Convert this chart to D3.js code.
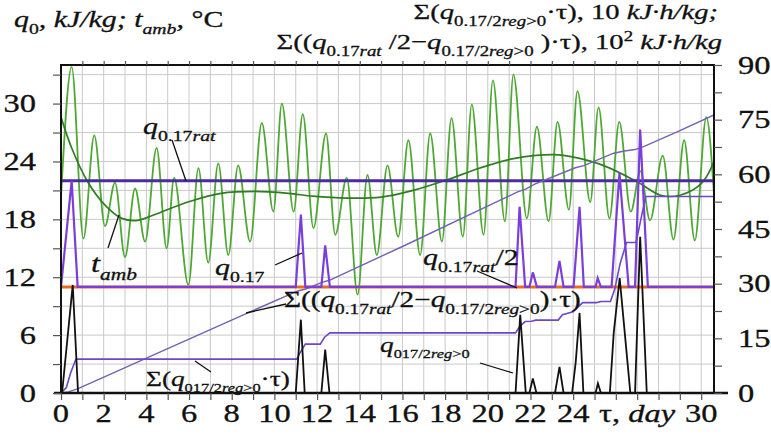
<!DOCTYPE html>
<html><head><meta charset="utf-8">
<script src="https://cdn.jsdelivr.net/npm/d3@7"></script>
<style>body{margin:0;background:#fff} svg{display:block}</style>
</head><body><svg id="c" width="771" height="445"></svg>
<script>
// ---------- data ----------
const xLabelDays = [0,2,4,6,8,10,12,14,16,18,20,22,24,30];
const leftLabels = [0,6,12,18,24,30];
const rightLabels = [0,15,30,45,60,75,90];

// q0.17rat and q0.17rat/2 levels (kJ/kg)
const qRat = [[0,22],[30.6,22]];
const qRatHalf = [[0,11],[30.6,11]];

// t_amb, daily oscillation (day, °C)
const tAmb = [[0,20.3],[0.5,33.8],[1.05,16.0],[1.56,26.7],[2.06,17.3],[2.53,21.8],[3.0,14.1],[3.47,21.2],[3.94,15.7],
 [4.48,25.4],[4.95,15.0],[5.3,22.3],[5.97,11.2],[6.44,23.3],[6.9,13.5],[7.37,23.8],[7.84,14.3],[8.3,23.6],[8.86,15.7],
 [9.41,28.0],[9.95,18.8],[10.35,30.0],[10.9,18.8],[11.33,28.9],[11.83,17.1],[12.42,26.9],[12.85,16.4],[13.39,22.3],
 [13.9,10.2],[14.36,22.6],[14.8,14.3],[15.3,23.6],[15.8,16.2],[16.28,26.2],[16.83,14.3],[17.3,26.9],[17.85,15.7],
 [18.3,28.5],[18.83,16.2],[19.25,29.9],[19.8,16.4],[20.24,32.4],[20.8,17.8],[21.2,33.0],[21.83,18.1],[22.3,27.6],
 [22.85,17.8],[23.27,28.1],[23.8,19.0],[24.2,31.3],[24.8,19.8],[25.19,29.6],[25.7,18.1],[26.16,28.1],[26.7,18.8],
 [27.15,23.0],[27.6,17.9],[28.2,24.6],[28.7,15.9],[29.2,26.2],[29.7,15.8],[30.24,28.6],[30.6,20.6]];

// t_amb smoothed trend (day, °C)
const tAmbTrend = [[0,28.6],[0.5,25.4],[1.25,21.9],[2.05,19.5],[2.85,18.1],[3.6,17.9],[4.4,18.5],[5.95,19.8],[7.5,20.7],
 [9.1,20.9],[10.65,20.7],[11.8,20.4],[13.4,20.2],[15.0,20.3],[16.5,21.0],[18.1,22.1],[19.6,23.3],[21.2,24.3],
 [23.1,24.7],[23.9,24.5],[25.4,23.6],[27.0,21.9],[28.1,20.5],[29.0,20.5],[30.0,21.7],[30.6,24.0]];

// q0.17 (kJ/kg)
const q017 = [[0,11],[0.5,22],[0.78,11],[11.0,11],[11.24,18.5],[11.45,11],[12.2,11],[12.38,15.3],[12.6,11],
 [21.3,11],[21.49,19.3],[21.75,11],[21.95,11],[22.11,12.5],[22.3,11],[23.15,11],[23.36,13.7],[23.55,11],
 [24.02,11],[24.3,19.3],[24.5,11],[25.05,11],[25.15,11.9],[25.3,11],[25.8,11],[26.17,22.8],[26.6,11],
 [26.9,11],[27.14,27.3],[27.5,11],[30.6,11]];

// q017/2reg>0 (kJ/kg)
const q017reg = [[0,0],[0.05,0],[0.55,11.2],[0.8,0],[11.0,0],[11.24,7.6],[11.42,0],[12.2,0],[12.38,4.5],[12.58,0],
 [21.3,0],[21.52,8.1],[21.78,0],[21.95,0],[22.11,1.5],[22.28,0],[23.15,0],[23.36,2.7],[23.55,0],
 [23.95,0],[24.12,3.2],[24.3,8.3],[24.48,0],[25.05,0],[25.16,1.0],[25.3,0],
 [25.72,0],[25.9,6.2],[26.18,11.9],[26.68,0],[26.9,0],[27.14,16.2],[27.45,0],[30.6,0]];

// Σ(q017/2reg>0·τ), 10 kJ·h/kg (right axis)
const sumReg = [[0,0],[0.25,1.5],[0.45,5.5],[0.7,9.3],[11.05,9.3],[11.2,11],[11.45,13.4],[12.15,13.4],[12.35,15.3],
 [12.6,16.5],[21.3,16.5],[21.5,18.3],[21.75,19.6],[22.05,19.7],[22.25,20.0],[23.3,20.0],[23.5,21.5],[24.0,22.3],
 [24.2,23.5],[24.45,24.8],[25.1,24.8],[25.3,25.1],[25.75,25.1],[25.95,28.5],[26.2,35.5],[26.5,41.3],[26.95,41.3],
 [27.15,47],[27.4,53.9],[30.6,53.9]];

// Σ((q0.17rat/2 − q0.17/2reg>0)·τ), 10² kJ·h/kg (right axis)
const sumDiff = [[0,0],[0.35,0.3],[0.8,1.2],[5,12.2],[8.6,21.6],[11.1,28.0],[11.5,28.6],[12.2,30.3],[12.6,31.0],
 [16,40.2],[21.4,55.2],[21.8,56.0],[22.2,57.3],[24.1,61.8],[24.5,62.4],[25.9,65.8],[26.4,66.4],[26.9,66.8],
 [27.3,67.6],[28.9,71.7],[30.6,76.3]];

// ---------- drawing ----------
const svg = d3.select('#c');
const L = 61, R = 714, T = 65, B = 393;
const x = d3.scaleLinear().domain([0,30.6]).range([L,R]);
const yL = d3.scaleLinear().domain([0,34]).range([B,T]);
const yR = d3.scaleLinear().domain([0,90]).range([B,T]);
const FONT = '"Liberation Serif","Times New Roman",serif';
const SX = 1.3;

function rich(parent, px, py, parts, o={}) {
  const size = o.size || 22, sx = o.sx || SX, sub = o.sub || 0.66;
  const t = parent.append('text').attr('transform',`translate(${px},${py}) scale(${sx},1)`)
    .attr('font-family',FONT).attr('font-size',size).attr('text-anchor',o.anchor||'start')
    .attr('fill','#111').attr('stroke','#111').attr('stroke-width',0.3);
  let cur = 0;
  parts.forEach(p => {
    const off = p.sub ? size*0.3 : p.sup ? -size*0.38 : 0;
    const ts = t.append('tspan').text(p.t).attr('dy', off - cur);
    cur = off;
    if (p.sub || p.sup) ts.attr('font-size', size*sub);
    if (p.i) ts.attr('font-style','italic');
  });
  return t;
}

// grid
const grid = svg.append('g').attr('stroke','#c9c9c9').attr('stroke-width',1);
grid.selectAll('.gv').data(d3.range(1,31)).join('line')
  .attr('x1',d=>x(d)).attr('x2',d=>x(d)).attr('y1',T).attr('y2',B);
grid.selectAll('.gh').data(d3.range(3,34,3)).join('line')
  .attr('x1',L).attr('x2',R).attr('y1',d=>yL(d)).attr('y2',d=>yL(d));

const lineL = d3.line().x(d=>x(d[0])).y(d=>yL(d[1]));
const lineR = d3.line().x(d=>x(d[0])).y(d=>yR(d[1]));

// clip
svg.append('clipPath').attr('id','pc').append('rect').attr('x',L).attr('y',T).attr('width',R-L).attr('height',B-T);
const plot = svg.append('g').attr('clip-path','url(#pc)');

plot.append('path').attr('d', d3.line().x(d=>x(d[0])).y(d=>yL(d[1])).curve(d3.curveMonotoneX)(tAmb))
  .attr('fill','none').attr('stroke','#4fa834').attr('stroke-width',1.8);
plot.append('path').attr('d', d3.line().x(d=>x(d[0])).y(d=>yL(d[1])).curve(d3.curveCatmullRom)(tAmbTrend))
  .attr('fill','none').attr('stroke','#2f7d22').attr('stroke-width',1.7);

plot.append('path').attr('d', lineL(qRat))
  .attr('fill','none').attr('stroke','#4a2c9c').attr('stroke-width',3);
plot.append('path').attr('d', lineL(qRatHalf))
  .attr('fill','none').attr('stroke','#f06a1e').attr('stroke-width',3);

plot.append('path').attr('d', lineR(sumDiff))
  .attr('fill','none').attr('stroke','#7262b4').attr('stroke-width',1.4);
plot.append('path').attr('d', lineR(sumReg))
  .attr('fill','none').attr('stroke','#6a48c8').attr('stroke-width',1.6);
plot.append('path').attr('d', lineL(q017))
  .attr('fill','none').attr('stroke','#7a3fd8').attr('stroke-width',2.2);
plot.append('path').attr('d', lineL(q017reg))
  .attr('fill','none').attr('stroke','#111').attr('stroke-width',1.8);

// frame
svg.append('rect').attr('x',L).attr('y',T).attr('width',R-L).attr('height',B-T)
  .attr('fill','none').attr('stroke','#111').attr('stroke-width',2);
svg.append('line').attr('x1',54).attr('x2',728).attr('y1',B).attr('y2',B).attr('stroke','#111').attr('stroke-width',2.6);

// axes ticks
const axL = svg.append('g').attr('transform',`translate(${L},0)`)
  .call(d3.axisLeft(yL).tickValues(d3.range(0,34,3)).tickSize(8).tickFormat(''));
const axR = svg.append('g').attr('transform',`translate(${R},0)`)
  .call(d3.axisRight(yR).tickValues(d3.range(0,91,7.5)).tickSize(8).tickFormat(''));
const axB = svg.append('g').attr('transform',`translate(0,${B})`)
  .call(d3.axisBottom(x).tickValues(d3.range(0,31,1)).tickSize(7).tickFormat(''));
const axT = svg.append('g').attr('transform',`translate(0,${T})`)
  .call(d3.axisTop(x).tickValues(d3.range(1,31,1)).tickSize(4).tickFormat(''));
[axL,axR,axB,axT].forEach(a=>{a.select('.domain').remove(); a.selectAll('line').attr('stroke','#555').attr('stroke-width',1.2);});

// tick labels
const TS = 25;
leftLabels.forEach(v => rich(svg, 36, yL(v)+8.5, [{t:String(v)}], {size:TS, anchor:'end'}));
rightLabels.forEach(v => rich(svg, 738, yR(v)+8.5, [{t:String(v)}], {size:TS}));
xLabelDays.forEach(v => rich(svg, x(v), 422, [{t:String(v)}], {size:TS, anchor:'middle'}));
rich(svg, x(27), 422, [{t:'τ, '},{t:'day',i:1}], {size:TS, anchor:'middle'});

// titles
rich(svg, 14, 27, [{t:'q',i:1},{t:'0',sub:1},{t:', kJ/kg; t',i:1},{t:'amb',sub:1,i:1},{t:',',i:1},{t:'  °C'}], {size:23});
rich(svg, 718, 19, [{t:'Σ('},{t:'q',i:1},{t:'0.17/2',sub:1},{t:'reg',sub:1,i:1},{t:'>0',sub:1},{t:'·τ), 10 '},{t:'kJ·h/kg;',i:1}], {size:22, anchor:'end'});
rich(svg, 722, 49, [{t:'Σ(('},{t:'q',i:1},{t:'0.17',sub:1},{t:'rat',sub:1,i:1},{t:' /2−'},{t:'q',i:1},{t:'0.17/2',sub:1},{t:'reg',sub:1,i:1},{t:'>0',sub:1},{t:' )·τ), 10'},{t:'2',sup:1},{t:' kJ·h/kg',i:1}], {size:22, anchor:'end'});

// annotations
const ann = svg.append('g');
rich(ann, 143, 134, [{t:'q',i:1},{t:'0.17',sub:1},{t:'rat',sub:1,i:1}], {size:23});
rich(ann, 91, 272, [{t:'t',i:1},{t:'amb',sub:1,i:1}], {size:25});
rich(ann, 215, 275, [{t:'q',i:1},{t:'0.17',sub:1}], {size:23});
rich(ann, 423, 265, [{t:'q',i:1},{t:'0.17',sub:1},{t:'rat',sub:1,i:1},{t:'/2'}], {size:23});
rich(ann, 284, 307, [{t:'Σ(('},{t:'q',i:1},{t:'0.17',sub:1},{t:'rat',sub:1,i:1},{t:'/2−'},{t:'q',i:1},{t:'0.17/2',sub:1},{t:'reg',sub:1,i:1},{t:'>0',sub:1},{t:')·τ)'}], {size:22.5});
rich(ann, 146, 386, [{t:'Σ('},{t:'q',i:1},{t:'017/2',sub:1},{t:'reg',sub:1,i:1},{t:'>0',sub:1},{t:'·τ)'}], {size:21, sub:0.6});
rich(ann, 380, 352, [{t:'q',i:1},{t:'017/2',sub:1},{t:'reg',sub:1,i:1},{t:'>0',sub:1}], {size:21, sub:0.6});

const leaders = [[[172,140],[186,181]],[[108,248],[119,215]],[[275,265],[302,253]],[[477,271],[517,288]],
  [[286,304],[246,313]],[[195,361],[211,372]],[[480,363],[513,373]]];
ann.selectAll('.ld').data(leaders).join('line')
  .attr('x1',d=>d[0][0]).attr('y1',d=>d[0][1]).attr('x2',d=>d[1][0]).attr('y2',d=>d[1][1])
  .attr('stroke','#111').attr('stroke-width',1.3);
</script></body></html>
